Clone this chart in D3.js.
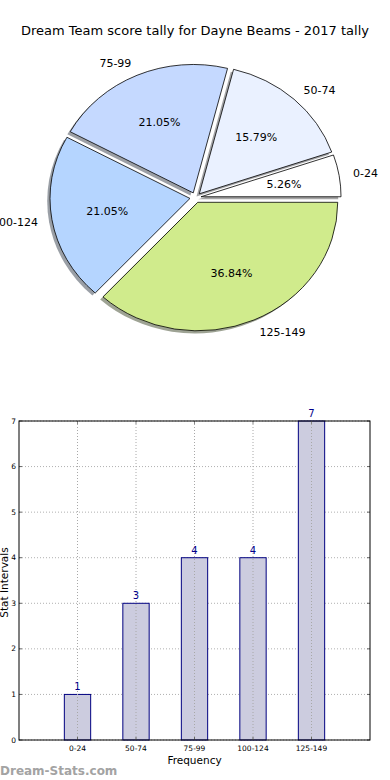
<!DOCTYPE html>
<html><head><meta charset="utf-8">
<script src="https://cdn.jsdelivr.net/npm/d3@7"></script>
<style>body{margin:0;background:#fff}svg{display:block;font-family:"DejaVu Sans",sans-serif}</style>
</head><body>
<svg id="c" width="390" height="780"></svg>
<script>
const title = "Dream Team score tally for Dayne Beams - 2017 tally";
const categories = ["0-24", "50-74", "75-99", "100-124", "125-149"];
const counts = [1, 3, 4, 4, 7];
const pieColors = ["#ffffff", "#eaf1ff", "#c5d9ff", "#b5d5ff", "#d0eb8c"];
const yTicks = [0, 1, 2, 3, 4, 5, 6, 7];
const xLabel = "Frequency";
const yLabel = "Stat Intervals";
const watermark = "Dream-Stats.com";

const svg = d3.select("#c");

// Title
svg.append("text").attr("x", 195).attr("y", 35).attr("text-anchor", "middle")
  .attr("font-size", 13).attr("fill", "#000").text(title);

// ---------- Pie (matplotlib-style, elliptical, exploded, shadow) ----------
const cx = 195.5, cy = 197.6, rx = 140, ry = 128.5, expl = 0.04;
const total = d3.sum(counts);
const pieData = d3.pie().sort(null)(counts);
const unitArc = d3.arc().innerRadius(0).outerRadius(1);
const slices = pieData.map((p, i) => {
  const t1 = p.startAngle, t2 = p.endAngle, tm = (t1 + t2) / 2;
  const ox = cx + Math.cos(tm) * expl * rx, oy = cy - Math.sin(tm) * expl * ry;
  return {i, t1, t2, tm, ox, oy,
    path: unitArc({startAngle: Math.PI / 2 - t1, endAngle: Math.PI / 2 - t2})};
});
const pieG = svg.append("g");
// shadows
slices.forEach(s => {
  const c = d3.rgb(pieColors[s.i]);
  pieG.append("path").attr("d", s.path)
    .attr("transform", `translate(${s.ox - 0.02 * rx},${s.oy + 0.02 * ry}) scale(${rx},${ry})`)
    .attr("fill", d3.rgb(c.r * 0.3, c.g * 0.3, c.b * 0.3)).attr("fill-opacity", 0.5)
    .attr("stroke", "none");
});
slices.forEach(s => {
  pieG.append("path").attr("d", s.path)
    .attr("transform", `translate(${s.ox},${s.oy}) scale(${rx},${ry})`)
    .attr("fill", pieColors[s.i]).attr("stroke", "#000").attr("stroke-width", 0.8)
    .attr("vector-effect", "non-scaling-stroke");
});
slices.forEach(s => {
  const lx = s.ox + Math.cos(s.tm) * 1.1 * rx, ly = s.oy - Math.sin(s.tm) * 1.1 * ry;
  pieG.append("text").attr("x", lx).attr("y", ly).attr("dy", "0.35em")
    .attr("text-anchor", Math.cos(s.tm) > 0 ? "start" : "end")
    .attr("font-size", 11).attr("fill", "#000").text(categories[s.i]);
  const px = s.ox + Math.cos(s.tm) * 0.6 * rx, py = s.oy - Math.sin(s.tm) * 0.6 * ry;
  pieG.append("text").attr("x", px).attr("y", py).attr("dy", "0.35em")
    .attr("text-anchor", "middle").attr("font-size", 11).attr("fill", "#000")
    .text((counts[s.i] / total * 100).toFixed(2) + "%");
});

// ---------- Bar chart ----------
const L = 19, R = 370, T = 421, B = 740;
const x = d3.scaleLinear().domain([-1, categories.length]).range([L, R]);
const y = d3.scaleLinear().domain([0, 7]).range([B, T]);
const barW = x(0.45) - x(0);
const bg = svg.append("g");

// grid
bg.selectAll(".hg").data(yTicks).join("line")
  .attr("x1", L).attr("x2", R).attr("y1", d => y(d)).attr("y2", d => y(d))
  .attr("stroke", "#b0b0b0").attr("stroke-width", 1).attr("stroke-dasharray", "1,2");

// bars
bg.selectAll(".bar").data(counts).join("rect")
  .attr("x", (d, i) => x(i) - barW / 2).attr("width", barW)
  .attr("y", d => y(d)).attr("height", d => B - y(d))
  .attr("fill", "#ccccdf").attr("stroke", "#000080").attr("stroke-width", 1);

bg.selectAll(".vg").data(categories).join("line")
  .attr("x1", (d, i) => x(i)).attr("x2", (d, i) => x(i)).attr("y1", T).attr("y2", B)
  .attr("stroke", "#a8a8a8").attr("stroke-width", 1).attr("stroke-dasharray", "1,2");

// value labels
bg.selectAll(".vl").data(counts).join("text")
  .attr("x", (d, i) => x(i)).attr("y", d => y(d) - 4).attr("text-anchor", "middle")
  .attr("font-size", 10).attr("fill", "#00008b").text(d => d);

// ticks (inside)
yTicks.forEach(t => {
  bg.append("line").attr("x1", L).attr("x2", L + 3).attr("y1", y(t)).attr("y2", y(t)).attr("stroke", "#666");
  bg.append("line").attr("x1", R - 3).attr("x2", R).attr("y1", y(t)).attr("y2", y(t)).attr("stroke", "#666");
});
categories.forEach((c, i) => {
  bg.append("line").attr("x1", x(i)).attr("x2", x(i)).attr("y1", B - 3).attr("y2", B).attr("stroke", "#666");
  bg.append("line").attr("x1", x(i)).attr("x2", x(i)).attr("y1", T).attr("y2", T + 3).attr("stroke", "#888");
});

// frame
bg.append("rect").attr("x", L).attr("y", T).attr("width", R - L).attr("height", B - T)
  .attr("fill", "none").attr("stroke", "#000").attr("stroke-width", 1);

// tick labels
bg.selectAll(".yl").data(yTicks).join("text")
  .attr("x", L - 3).attr("y", d => y(d)).attr("dy", "0.35em").attr("text-anchor", "end")
  .attr("font-size", 7.5).attr("fill", "#000").text(d => d);
bg.selectAll(".xl").data(categories).join("text")
  .attr("x", (d, i) => x(i)).attr("y", B + 11).attr("text-anchor", "middle")
  .attr("font-size", 7.5).attr("fill", "#000").text(d => d);

// axis labels
svg.append("text").attr("x", (L + R) / 2).attr("y", 764).attr("text-anchor", "middle")
  .attr("font-size", 10.5).attr("fill", "#000").text(xLabel);
svg.append("text").attr("transform", `translate(7.5,${(T + B) / 2 + 2}) rotate(-90)`)
  .attr("text-anchor", "middle").attr("font-size", 10.5).attr("fill", "#000").text(yLabel);

// watermark
svg.append("text").attr("x", 0).attr("y", 775).attr("font-size", 12)
  .attr("font-weight", 600).attr("fill", "#a3a3a3").text(watermark);
</script>
</body></html>
